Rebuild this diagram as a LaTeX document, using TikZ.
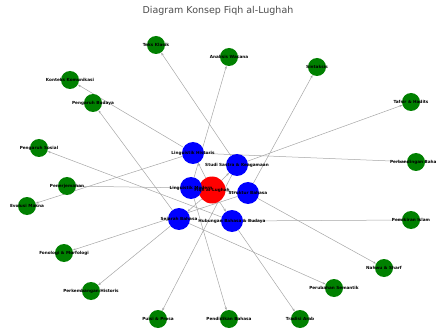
\documentclass[tikz,border=0pt]{standalone}
\usepackage{fontspec}
\setmainfont{DejaVu Sans}
\usepackage{tikz}
\usetikzlibrary{arrows.meta}

\pgfdeclarelayer{bg}
\pgfsetlayers{bg,main}

\tikzset{
	hub/.style={circle, fill=red, minimum size=27pt, inner sep=0pt},
	topic/.style={circle, fill=blue, minimum size=22pt, inner sep=0pt},
	leaf/.style={circle, fill=green!50!black, minimum size=18pt, inner sep=0pt},
	lbl/.style={font=\bfseries\fontsize{4.2}{5}\selectfont, inner sep=0pt},
	link/.style={draw=black!35, line width=0.5pt, -{Stealth[length=3pt,width=2.2pt]}}
}

\begin{document}
\begin{tikzpicture}[x=1pt, y=-1pt]
			\begingroup
			\useasboundingbox (0,0) rectangle (436,331);
			
			\node[font=\fontsize{9.5}{11}\selectfont, text=black!70] (title) at (218,11) {Diagram Konsep Fiqh al-Lughah};
			
			\node[hub] (fiqh) at (212,190) {};
			
			\node[topic] (lh) at (193,153) {};
			\node[topic] (ss) at (237,165) {};
			\node[topic] (lm) at (191,188) {};
			\node[topic] (sb) at (248,193) {};
			\node[topic] (sj) at (179,219) {};
			\node[topic] (hb) at (232,221) {};
			
			\node[leaf] (teks) at (156,45) {};
			\node[leaf] (analisis) at (229,57) {};
			\node[leaf] (sintaksis) at (317,67) {};
			\node[leaf] (konteks) at (70,80) {};
			\node[leaf] (budaya) at (93,103) {};
			\node[leaf] (tafsir) at (411,102) {};
			\node[leaf] (sosial) at (39,148) {};
			\node[leaf] (banding) at (416,162) {};
			\node[leaf] (terjemah) at (67,186) {};
			\node[leaf] (evolusi) at (27,206) {};
			\node[leaf] (islam) at (411,220) {};
			\node[leaf] (fonologi) at (64,253) {};
			\node[leaf] (nahwu) at (384,268) {};
			\node[leaf] (historis) at (91,291) {};
			\node[leaf] (semantik) at (334,288) {};
			\node[leaf] (puisi) at (158,319) {};
			\node[leaf] (didik) at (229,319) {};
			\node[leaf] (tradisi) at (300,319) {};
			
			\begin{pgfonlayer}{bg}
			\draw[link] (fiqh) to (lh);
			\draw[link] (fiqh) to (ss);
			\draw[link] (fiqh) to (lm);
			\draw[link] (fiqh) to (sb);
			\draw[link] (fiqh) to (sj);
			\draw[link] (fiqh) to (hb);
			
			\draw[link] (lh) to (konteks);
			\draw[link] (lh) to (banding);
			\draw[link] (lh) to (evolusi);
			\draw[link] (lm) to (analisis);
			\draw[link] (lm) to (terjemah);
			\draw[link] (lm) to (didik);
			\draw[link] (ss) to (teks);
			\draw[link] (ss) to (tafsir);
			\draw[link] (ss) to (puisi);
			\draw[link] (sb) to (sintaksis);
			\draw[link] (sb) to (nahwu);
			\draw[link] (sb) to (fonologi);
			\draw[link] (sj) to (budaya);
			\draw[link] (sj) to (semantik);
			\draw[link] (sj) to (historis);
			\draw[link] (hb) to (sosial);
			\draw[link] (hb) to (tradisi);
			\draw[link] (hb) to (islam);
			\end{pgfonlayer}
			
			% labels on top of all circles
			\node[lbl] at (fiqh) {Fiqh al-Lughah};
			\node[lbl] at (lh) {Linguistik Historis};
			\node[lbl] at (ss) {Studi Sastra \& Keagamaan};
			\node[lbl] at (lm) {Linguistik Modern};
			\node[lbl] at (sb) {Struktur Bahasa};
			\node[lbl] at (sj) {Sejarah Bahasa};
			\node[lbl] at (hb) {Hubungan Bahasa \& Budaya};
			\node[lbl] at (teks) {Teks Klasik};
			\node[lbl] at (analisis) {Analisis Wacana};
			\node[lbl] at (sintaksis) {Sintaksis};
			\node[lbl] at (konteks) {Konteks Komunikasi};
			\node[lbl] at (budaya) {Pengaruh Budaya};
			\node[lbl] at (tafsir) {Tafsir \& Hadits};
			\node[lbl] at (sosial) {Pengaruh Sosial};
			\node[lbl] at (banding) {Perbandingan Bahasa};
			\node[lbl] at (terjemah) {Penerjemahan};
			\node[lbl] at (evolusi) {Evolusi Makna};
			\node[lbl] at (islam) {Pemikiran Islam};
			\node[lbl] at (fonologi) {Fonologi \& Morfologi};
			\node[lbl] at (nahwu) {Nahwu \& Sharf};
			\node[lbl] at (historis) {Perkembangan Historis};
			\node[lbl] at (semantik) {Perubahan Semantik};
			\node[lbl] at (puisi) {Puisi \& Prosa};
			\node[lbl] at (didik) {Pendidikan Bahasa};
			\node[lbl] at (tradisi) {Tradisi Arab};
			\endgroup
\end{tikzpicture}
\end{document}
